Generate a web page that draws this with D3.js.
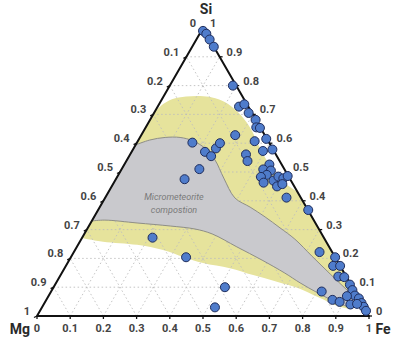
<!DOCTYPE html>
<html>
<head>
<meta charset="utf-8">
<script src="https://cdn.jsdelivr.net/npm/d3@7"></script>
<style>
  body { margin: 0; background: #fff; }
  svg { display: block; font-family: Roboto, "Liberation Sans", sans-serif; }
</style>
</head>
<body>
<svg id="chart"></svg>
<script>
// measured points, ternary fractions (Fe, Si), Mg = 1 - Fe - Si
const pointFe = [0.005, 0.02, 0.04, 0.065, 0.19, 0.245, 0.257, 0.285, 0.318, 0.333, 0.345, 0.383, 0.42,
  0.283, 0.352, 0.394, 0.349, 0.365, 0.437, 0.167, 0.221, 0.247, 0.248, 0.251, 0.234, 0.207,
  0.427, 0.452, 0.447, 0.433, 0.477, 0.485, 0.503, 0.512, 0.498, 0.510, 0.546, 0.451,
  0.633, 0.740, 0.796, 0.805, 0.826, 0.839, 0.858, 0.888, 0.905, 0.922, 0.939, 0.955, 0.968, 0.982,
  0.815, 0.862, 0.887, 0.924, 0.516, 0.521, 0.212, 0.347, 0.899, 0.943];
const pointSi = [0.99, 0.98, 0.96, 0.935, 0.80, 0.727, 0.735, 0.705, 0.681, 0.655, 0.653, 0.615, 0.578,
  0.628, 0.607, 0.573, 0.561, 0.538, 0.526, 0.602, 0.570, 0.555, 0.582, 0.600, 0.510, 0.475,
  0.509, 0.505, 0.490, 0.483, 0.470, 0.484, 0.478, 0.486, 0.450, 0.458, 0.411, 0.463,
  0.368, 0.222, 0.204, 0.174, 0.174, 0.137, 0.135, 0.109, 0.090, 0.071, 0.061, 0.045, 0.032, 0.018,
  0.085, 0.056, 0.049, 0.040, 0.100, 0.030, 0.272, 0.204, 0.069, 0.042];

// micrometeorite composition field (Fe, Si)
const greyFe = [0, 0.034, 0.076, 0.121, 0.166, 0.214, 0.265, 0.323, 0.391, 0.453, 0.515, 0.579, 0.643, 0.724, 0.810, 0.889, 0.949,
  0.933, 0.876, 0.806, 0.735, 0.672, 0.581, 0.482, 0.385, 0.325, 0.245, 0.140, 0.038, 0];
const greySi = [0.594, 0.611, 0.620, 0.620, 0.608, 0.583, 0.542, 0.479, 0.410, 0.378, 0.344, 0.306, 0.267, 0.208, 0.146, 0.090, 0.049,
  0.031, 0.049, 0.080, 0.115, 0.149, 0.194, 0.240, 0.285, 0.302, 0.3125, 0.323, 0.333, 0.330];

// wider (yellow) field: upper and lower boundaries
const yellowUpFe = [0, 0.012, 0.030, 0.068, 0.109, 0.148, 0.194, 0.251, 0.316, 0.380, 0.442, 0.504, 0.569];
const yellowUpSi = [0.708, 0.736, 0.753, 0.762, 0.764, 0.759, 0.743, 0.708, 0.653, 0.583, 0.521, 0.469, 0.431];
const yellowLowFe = [0.955, 0.936, 0.897, 0.813, 0.744, 0.663, 0.580, 0.498, 0.408, 0.338, 0.265, 0.178, 0.070, 0];
const yellowLowSi = [0.045, 0.026, 0.032, 0.066, 0.095, 0.119, 0.142, 0.166, 0.184, 0.205, 0.229, 0.247, 0.258, 0.271];

const ticks = [0, 0.1, 0.2, 0.3, 0.4, 0.5, 0.6, 0.7, 0.8, 0.9, 1];
const vertexLabels = ["Si", "Mg", "Fe"];

const W = 393, H = 341;
const svg = d3.select("#chart").attr("width", W).attr("height", H);

const h3 = Math.sqrt(3) / 2;
const x = d3.scaleLinear().domain([0, 1]).range([37, 369]);
const y = d3.scaleLinear().domain([0, h3]).range([316, 28]);
const proj = (fe, si) => [x(fe + si / 2), y(si * h3)];
const fmt = t => String(+t.toFixed(1));

const zip = (a, b) => a.map((v, i) => proj(v, b[i]));
const smooth = d3.line().curve(d3.curveCatmullRom.alpha(0.5));

// yellow field
const up = smooth(zip(yellowUpFe, yellowUpSi));
const low = smooth(zip(yellowLowFe, yellowLowSi));
svg.append("path")
  .attr("d", up + "L" + low.slice(1) + "Z")
  .attr("fill", "#e6e39c");

// grid
const grid = svg.append("g")
  .attr("stroke", "#bdbdbd")
  .attr("stroke-width", 0.9)
  .attr("stroke-dasharray", "1.5,2.5")
  .attr("fill", "none");
ticks.slice(1, -1).forEach(t => {
  const lines = [
    [proj(0, t), proj(1 - t, t)],
    [proj(t, 0), proj(t, 1 - t)],
    [proj(1 - t, 0), proj(0, 1 - t)]
  ];
  lines.forEach(l => grid.append("line")
    .attr("x1", l[0][0]).attr("y1", l[0][1])
    .attr("x2", l[1][0]).attr("y2", l[1][1]));
});

// grey field
svg.append("path")
  .attr("d", smooth(zip(greyFe, greySi)) + "Z")
  .attr("fill", "#c9c9cd")
  .attr("stroke", "#8e8e86")
  .attr("stroke-width", 1);

svg.append("text")
  .attr("x", 173).attr("y", 200)
  .attr("text-anchor", "middle")
  .attr("font-size", 9).attr("font-style", "italic")
  .attr("fill", "#7a7a7a")
  .selectAll("tspan")
  .data(["Micrometeorite", "compostion"])
  .join("tspan")
  .attr("x", 174)
  .attr("dy", (d, i) => i ? 13 : 0)
  .text(d => d);

// triangle frame
const corners = [proj(0, 1), proj(0, 0), proj(1, 0)];
svg.append("path")
  .attr("d", d3.line()(corners) + "Z")
  .attr("fill", "none")
  .attr("stroke", "#111")
  .attr("stroke-width", 2)
  .attr("stroke-linejoin", "round");

// ticks and labels
const axes = svg.append("g")
  .attr("font-size", 11).attr("font-weight", "bold").attr("fill", "#444");
const tickG = svg.append("g").attr("stroke", "#111").attr("stroke-width", 1.3);

ticks.forEach(t => {
  // bottom: Fe
  let p = proj(t, 0);
  tickG.append("line").attr("x1", p[0]).attr("y1", p[1]).attr("x2", p[0]).attr("y2", p[1] + 3);
  axes.append("text").attr("x", p[0]).attr("y", p[1] + 16)
    .attr("text-anchor", "middle").text(fmt(t));
  // right: Si
  p = proj(1 - t, t);
  tickG.append("line").attr("x1", p[0]).attr("y1", p[1]).attr("x2", p[0] + 3).attr("y2", p[1]);
  axes.append("text").attr("x", p[0] + 7).attr("y", p[1] - 1)
    .text(fmt(t));
  // left: Mg
  p = proj(0, 1 - t);
  tickG.append("line").attr("x1", p[0]).attr("y1", p[1]).attr("x2", p[0] - 3).attr("y2", p[1] + 1.5);
  axes.append("text").attr("x", p[0] - 7).attr("y", p[1] - 1)
    .attr("text-anchor", "end").text(fmt(t));
});

// vertex labels
const vpos = [[proj(0, 1)[0] + 3, 14], [20, 334], [383, 334]];
svg.append("g")
  .attr("font-size", 14).attr("font-weight", "bold").attr("fill", "#2a2a2a")
  .attr("text-anchor", "middle")
  .selectAll("text").data(vertexLabels).join("text")
  .attr("x", (d, i) => vpos[i][0]).attr("y", (d, i) => vpos[i][1])
  .text(d => d);

// points
svg.append("g")
  .selectAll("circle")
  .data(pointFe.map((fe, i) => proj(fe, pointSi[i])))
  .join("circle")
  .attr("cx", d => d[0]).attr("cy", d => d[1])
  .attr("r", 4.5)
  .attr("fill", "#4f7ccb")
  .attr("stroke", "#1f2d5c")
  .attr("stroke-width", 1);
</script>
</body>
</html>
